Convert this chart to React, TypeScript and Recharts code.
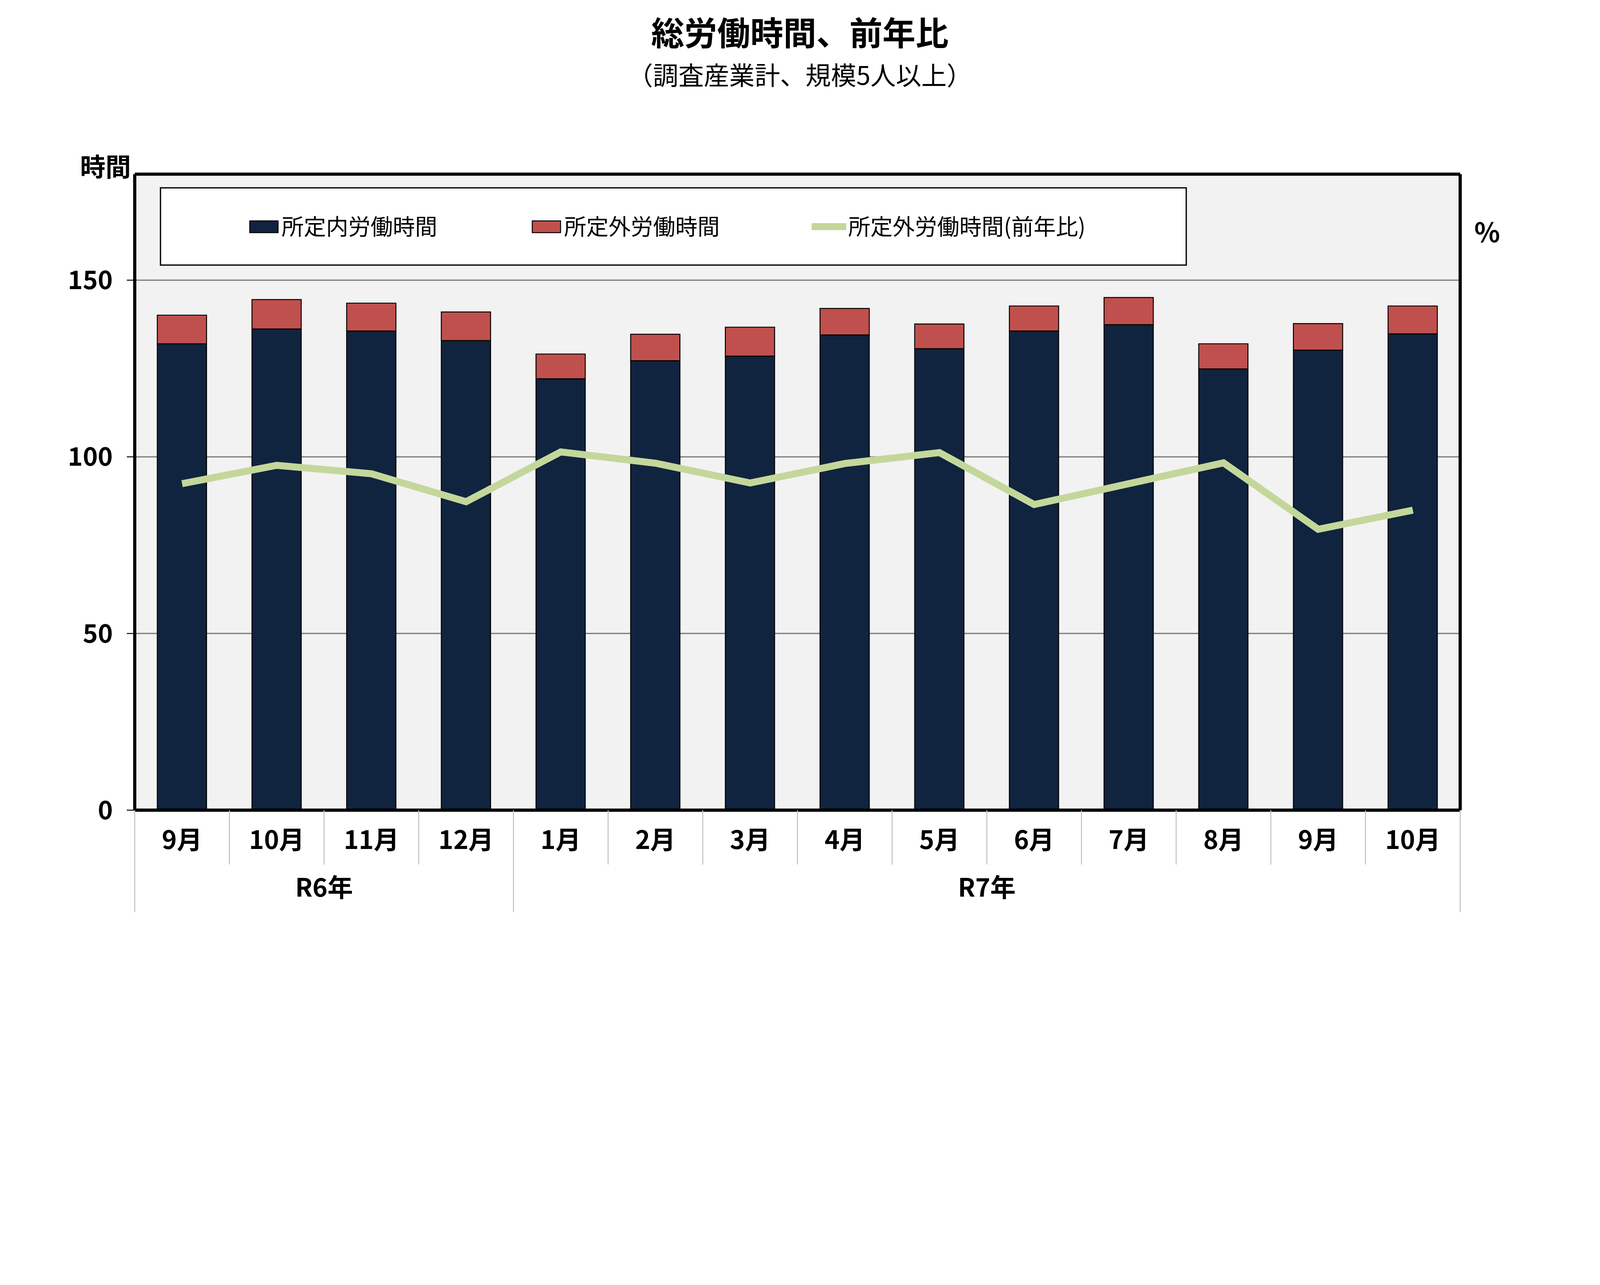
import { ComposedChart, Bar, Line, XAxis, YAxis, CartesianGrid, ReferenceLine } from "recharts";

const W = 5035;
const H = 3289;
const FONT = '"Noto Sans CJK JP", "Noto Sans", sans-serif';

// データ（時間 / %）
const months = ["9月", "10月", "11月", "12月", "1月", "2月", "3月", "4月", "5月", "6月", "7月", "8月", "9月", "10月"];
const scheduled = [132.0, 136.2, 135.6, 132.9, 122.1, 127.2, 128.5, 134.5, 130.6, 135.6, 137.4, 124.9, 130.2, 134.8];
const overtime = [8.1, 8.3, 7.9, 8.1, 7.0, 7.5, 8.2, 7.5, 7.0, 7.1, 7.7, 7.1, 7.5, 7.9];
const overtimeRatio = [92.4, 97.6, 95.2, 87.3, 101.4, 98.2, 92.6, 98.1, 101.2, 86.5, 92.4, 98.3, 79.5, 84.9];
const yearGroups = [
  { label: "R6年", start: 0, count: 4 },
  { label: "R7年", start: 4, count: 10 },
];
const yTicks = [0, 50, 100, 150];
const seriesNames = ["所定内労働時間", "所定外労働時間", "所定外労働時間(前年比)"];

const data = months.map((m, i) => ({
  key: `${i}-${m}`,
  month: m,
  scheduled: scheduled[i],
  overtime: overtime[i],
  ratio: overtimeRatio[i],
}));

// レイアウト
const TOP = 548;
const LEFT_W = 424;
const RIGHT_W = 440;
const XAXIS_H = 340;
const BOTTOM_M = 400;
const PLOT_BOTTOM = H - BOTTOM_M - XAXIS_H;
const BAND = (W - LEFT_W - RIGHT_W) / months.length;

const NAVY = "#10243f";
const RED = "#c0504d";
const GREEN = "#c4d79b";

// the page viewport can be narrower than the photo (device pixel ratio), so fit the 5035px layout into it
const FIT =
  typeof window !== "undefined" && window.innerWidth && window.innerHeight
    ? Math.min(1, window.innerWidth / W, window.innerHeight / H)
    : 1;

const MonthTick = (props: any) => {
  const { x, index } = props;
  const left = x - BAND / 2;
  const groupStart = yearGroups.find((g) => g.start === index);
  const last = index === months.length - 1;
  return (
    <g>
      <line x1={left} x2={left} y1={PLOT_BOTTOM} y2={groupStart ? 2870 : 2720} stroke="#bfbfbf" strokeWidth={3} />
      {last && <line x1={x + BAND / 2} x2={x + BAND / 2} y1={PLOT_BOTTOM} y2={2870} stroke="#bfbfbf" strokeWidth={3} />}
      <text x={x} y={2637} textAnchor="middle" dominantBaseline="central" fontSize={80} fontWeight={700} fontFamily={FONT} fill="#000">
        {months[index]}
      </text>
      {groupStart && (
        <text
          x={left + (groupStart.count * BAND) / 2}
          y={2787}
          textAnchor="middle"
          dominantBaseline="central"
          fontSize={80}
          fontWeight={700}
          fontFamily={FONT}
          fill="#000"
        >
          {groupStart.label}
        </text>
      )}
    </g>
  );
};

const Overlay = () => (
  <svg width={W} height={H} style={{ position: "absolute", left: 0, top: 0, pointerEvents: "none" }}>
    <text x={2517} y={97} textAnchor="middle" dominantBaseline="central" fontSize={104} fontWeight={700} fontFamily={FONT}>
      総労働時間、前年比
    </text>
    <text x={2517} y={232} textAnchor="middle" dominantBaseline="central" fontSize={80} fontFamily={FONT}>
      （調査産業計、規模5人以上）
    </text>
    <text x={412} y={520} textAnchor="end" dominantBaseline="central" fontSize={80} fontWeight={700} fontFamily={FONT}>
      時間
    </text>
    <text x={4680} y={726} textAnchor="middle" dominantBaseline="central" fontSize={84} fontWeight={700} fontFamily={FONT}>
      %
    </text>
    {/* 凡例 */}
    <rect x={505} y={591} width={3228} height={243} fill="#fff" stroke="#000" strokeWidth={4} />
    <rect x={786} y={695} width={89} height={37} fill={NAVY} stroke="#000" strokeWidth={3} />
    <text x={886} y={708} dominantBaseline="central" fontSize={70} fontFamily={FONT}>
      {seriesNames[0]}
    </text>
    <rect x={1675} y={695} width={89} height={37} fill={RED} stroke="#000" strokeWidth={3} />
    <text x={1775} y={708} dominantBaseline="central" fontSize={70} fontFamily={FONT}>
      {seriesNames[1]}
    </text>
    <line x1={2554} x2={2663} y1={713} y2={713} stroke={GREEN} strokeWidth={22} />
    <text x={2669} y={708} dominantBaseline="central" fontSize={70} fontFamily={FONT}>
      {seriesNames[2]}
    </text>
  </svg>
);

export default function App() {
  return (
    <div
      style={{
        position: "absolute",
        left: 0,
        top: 0,
        width: W,
        height: H,
        background: "#fff",
        transform: `scale(${FIT})`,
        transformOrigin: "0 0",
      }}
    >
      <ComposedChart width={W} height={H} data={data} margin={{ top: TOP, right: 0, bottom: BOTTOM_M, left: 0 }}>
        <CartesianGrid vertical={false} fill="#f2f2f2" stroke="#808080" strokeWidth={4} />
        <XAxis
          dataKey="key"
          height={XAXIS_H}
          interval={0}
          tickLine={false}
          axisLine={{ stroke: "#000", strokeWidth: 10 }}
          tick={<MonthTick />}
        />
        <YAxis
          width={LEFT_W}
          domain={[0, 180]}
          ticks={yTicks}
          interval={0}
          tickSize={25}
          tickMargin={44}
          tickLine={{ stroke: "#000", strokeWidth: 3 }}
          axisLine={{ stroke: "#000", strokeWidth: 10 }}
          tick={{ fill: "#000", fontSize: 80, fontWeight: 700, fontFamily: FONT }}
        />
        <YAxis
          yAxisId="pct"
          orientation="right"
          width={RIGHT_W}
          domain={[0, 180]}
          tick={false}
          tickLine={false}
          axisLine={{ stroke: "#000", strokeWidth: 10 }}
        />
        <ReferenceLine y={180} stroke="#000" strokeWidth={10} />
        <Bar dataKey="scheduled" name={seriesNames[0]} stackId="h" fill={NAVY} stroke="#000" strokeWidth={3} barSize={155} isAnimationActive={false} />
        <Bar dataKey="overtime" name={seriesNames[1]} stackId="h" fill={RED} stroke="#000" strokeWidth={3} barSize={155} isAnimationActive={false} />
        <Line
          yAxisId="pct"
          type="linear"
          dataKey="ratio"
          name={seriesNames[2]}
          stroke={GREEN}
          strokeWidth={22}
          strokeLinejoin="miter"
          dot={false}
          activeDot={false}
          isAnimationActive={false}
        />
      </ComposedChart>
      <Overlay />
    </div>
  );
}
